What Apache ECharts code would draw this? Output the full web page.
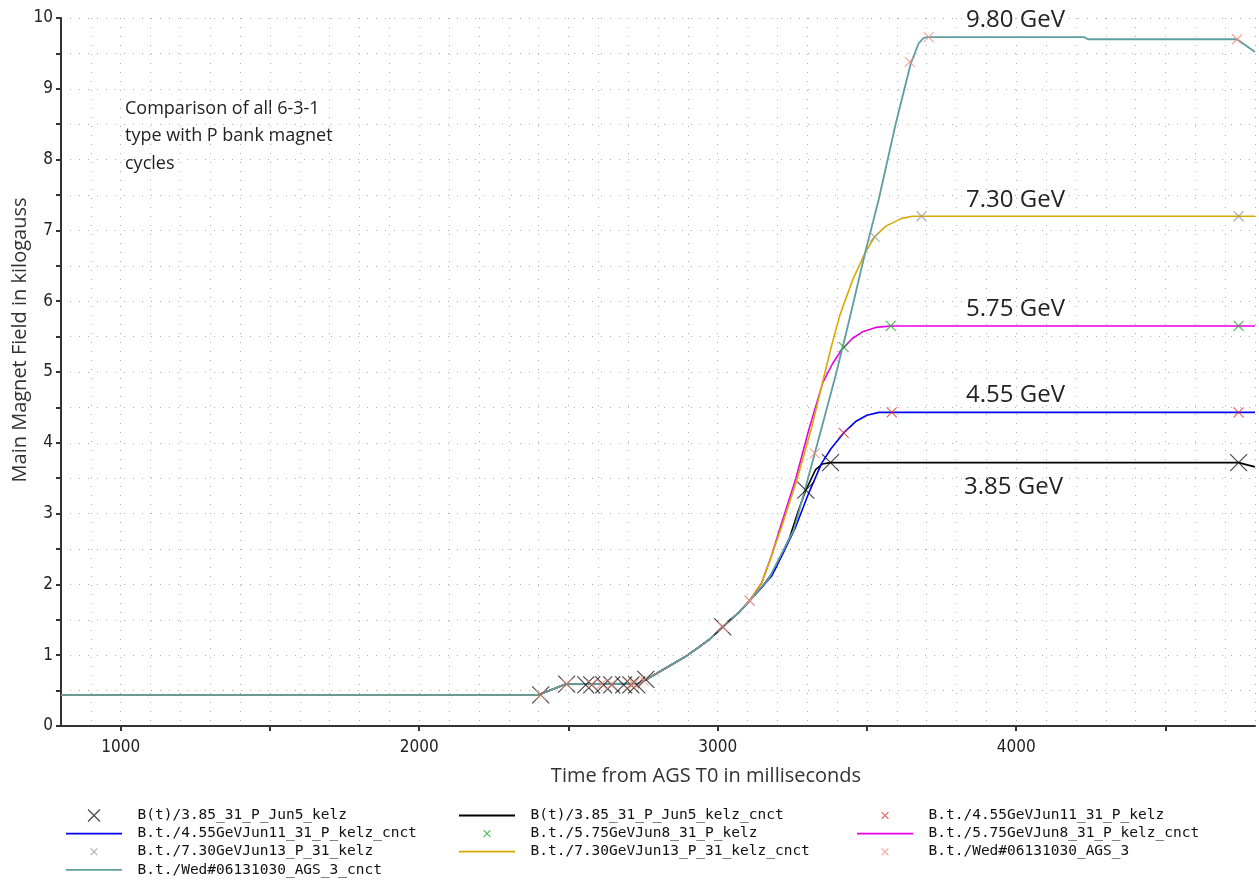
<!DOCTYPE html>
<html>
<head>
<meta charset="utf-8">
<script src="https://cdn.jsdelivr.net/npm/echarts@6/dist/echarts.min.js"></script>
<style>
  html, body { margin: 0; padding: 0; background: #fff; }
  #chart { width: 1259px; height: 888px; }
</style>
</head>
<body>
<div id="chart"></div>
<script>
// Tick labels
const xTickLabels = [1000, 2000, 3000, 4000];
const xTicks = [1000, 1500, 2000, 2500, 3000, 3500, 4000, 4500];

// Shared front porch and early ramp of every cycle (ms, kG)
const rampTime  = [800, 2400, 2490, 2735, 2758, 2825, 2892, 2936, 2970, 3017, 3070, 3107];
const rampField = [0.44, 0.44, 0.59, 0.60, 0.65, 0.815, 0.98, 1.11, 1.215, 1.40, 1.60, 1.77];

// Connected curves after the ramps separate
const time385  = [3150, 3190, 3240, 3271, 3295, 3328, 3350, 3378, 4745, 4800];
const field385 = [1.97, 2.20, 2.65, 3.05, 3.33, 3.62, 3.70, 3.72, 3.72, 3.66];

const time455  = [3150, 3181, 3220, 3261, 3305, 3348, 3380, 3422, 3462, 3500, 3540, 3583, 4800];
const field455 = [1.97, 2.12, 2.45, 2.81, 3.29, 3.71, 3.92, 4.14, 4.30, 4.39, 4.43, 4.43, 4.43];

const time575  = [3147, 3180, 3210, 3262, 3305, 3352, 3385, 3415, 3450, 3486, 3530, 3580, 4800];
const field575 = [2.02, 2.40, 2.81, 3.50, 4.18, 4.85, 5.12, 5.31, 5.47, 5.57, 5.63, 5.65, 5.65];

const time730  = [3147, 3180, 3214, 3265, 3315, 3351, 3380, 3409, 3452, 3496, 3526, 3563, 3617, 3653, 4800];
const field730 = [2.02, 2.40, 2.81, 3.47, 4.22, 4.85, 5.35, 5.80, 6.30, 6.70, 6.91, 7.06, 7.17, 7.20, 7.20];

const time980  = [3150, 3171, 3210, 3255, 3295, 3325, 3355, 3395, 3436, 3496, 3539, 3596, 3647, 3673, 3690, 3707, 4228, 4240, 4740, 4800];
const field980 = [1.98, 2.08, 2.40, 2.77, 3.38, 3.85, 4.32, 4.95, 5.65, 6.72, 7.43, 8.50, 9.36, 9.64, 9.72, 9.73, 9.73, 9.70, 9.70, 9.52];

// Measured samples (kelz)
const kelz385Time  = [2407, 2494, 2558, 2578, 2618, 2645, 2685, 2709, 2729, 2759, 3017, 3295, 3378, 4745];
const kelz385Field = [0.44, 0.59, 0.58, 0.58, 0.58, 0.58, 0.58, 0.58, 0.58, 0.66, 1.40, 3.33, 3.72, 3.72];

const kelz455Time  = [3422, 3583, 4745];
const kelz455Field = [4.14, 4.43, 4.43];

const kelz575Time  = [3422, 3580, 4745];
const kelz575Field = [5.35, 5.65, 5.65];

const kelz730Time  = [3107, 3526, 3683, 4745];
const kelz730Field = [1.77, 6.91, 7.20, 7.20];

const ags3Time  = [2407, 2494, 2578, 2611, 2645, 2709, 2719, 2752, 3017, 3107, 3325, 3643, 3707, 4740];
const ags3Field = [0.44, 0.59, 0.59, 0.59, 0.59, 0.59, 0.60, 0.64, 1.40, 1.77, 3.85, 9.38, 9.73, 9.70];

// Series names
const N = {
  k385: 'B(t)/3.85_31_P_Jun5_kelz',
  c385: 'B(t)/3.85_31_P_Jun5_kelz_cnct',
  k455: 'B.t./4.55GeVJun11_31_P_kelz',
  c455: 'B.t./4.55GeVJun11_31_P_kelz_cnct',
  k575: 'B.t./5.75GeVJun8_31_P_kelz',
  c575: 'B.t./5.75GeVJun8_31_P_kelz_cnct',
  k730: 'B.t./7.30GeVJun13_P_31_kelz',
  c730: 'B.t./7.30GeVJun13_P_31_kelz_cnct',
  ags:  'B.t./Wed#06131030_AGS_3',
  cags: 'B.t./Wed#06131030_AGS_3_cnct'
};

const pairs = (xs, ys) => xs.map((x, i) => [x, ys[i]]);
const withRamp = (xs, ys) => pairs(rampTime.concat(xs), rampField.concat(ys));

const CROSS = 'path://M0,0L10,10M10,0L0,10';
const CROSS_SMALL_ICON = 'path://M-3,-3M0,0L8,8M8,0L0,8M11,11';
const CROSS_BIG_ICON = 'path://M0,0L12,12M12,0L0,12';
const LINE_ICON = 'path://M0,0M0,5.1L56,5.1L56,6.9L0,6.9ZM56,12';

function lineSeries(name, data, color, width) {
  return {
    name, type: 'line', data, symbol: 'none', z: 2,
    lineStyle: { color, width: width || 1.6 },
    itemStyle: { color },
    emphasis: { disabled: true }, animation: false
  };
}
function crossSeries(name, data, color, size) {
  return {
    name, type: 'scatter', data, symbol: CROSS, symbolSize: size, z: 5,
    itemStyle: { color: 'rgba(0,0,0,0)', borderColor: color, borderWidth: 1.1 },
    emphasis: { disabled: true }, animation: false
  };
}

const C = {
  k385: '#111111', c385: '#000000',
  k455: '#e8302c', c455: '#0000ee',
  k575: '#22aa22', c575: '#e600e6',
  k730: '#9a9a9a', c730: '#d8aa00',
  ags: '#f4907c',  cags: '#5f9ea0'
};

const dotted = { color: '#b0b0b0', width: 1, type: [1, 8] };
const tickFont = { fontFamily: "'Liberation Sans Narrow', 'DejaVu Sans Condensed', 'Liberation Sans', sans-serif", fontSize: 17, color: '#222' };
const titleFontCss = "20px 'Open Sans', 'Noto Sans', sans-serif";

const legendBase = {
  orient: 'vertical', itemWidth: 56, itemHeight: 12, itemGap: 3.1, padding: 0,
  selectedMode: false,
  textStyle: { fontFamily: "'DejaVu Sans Mono', monospace", fontSize: 14.5, color: '#111', padding: [0, 0, 0, 10.5] }
};
const crossIcon = (name, color, big) => ({
  name, icon: big ? CROSS_BIG_ICON : CROSS_SMALL_ICON,
  itemStyle: { color: 'rgba(0,0,0,0)', borderColor: color, borderWidth: 1.1 }
});
const lineIcon = (name, color) => ({
  name, icon: LINE_ICON, itemStyle: { color, borderWidth: 0 }
});

const option = {
  backgroundColor: '#fff',
  animation: false,
  grid: { left: 61, right: 4, top: 18, bottom: 162, containLabel: false },
  xAxis: [
    {
      type: 'value', min: 800, max: 4800,
      axisLine: { show: true, onZero: false, lineStyle: { color: '#333', width: 2 } },
      axisTick: { show: true, length: 5, customValues: xTicks, lineStyle: { color: '#333', width: 2 } },
      axisLabel: Object.assign({ margin: 13, customValues: xTickLabels, formatter: v => String(v) }, tickFont),
      splitLine: { show: false }
    },
    {
      type: 'value', min: 800, max: 4800, interval: 100, position: 'bottom',
      axisLine: { show: false }, axisTick: { show: false }, axisLabel: { show: false },
      splitLine: { show: true, lineStyle: dotted }
    }
  ],
  yAxis: {
    type: 'value', min: 0, max: 10, interval: 1,
    axisLine: { show: true, onZero: false, lineStyle: { color: '#333', width: 2 } },
    axisTick: { show: true, length: 5, lineStyle: { color: '#333', width: 2 } },
    minorTick: { show: true, splitNumber: 2, length: 5, lineStyle: { color: '#333', width: 2 } },
    axisLabel: Object.assign({ margin: 8 }, tickFont),
    splitLine: { show: true, lineStyle: dotted },
    minorSplitLine: { show: true, lineStyle: dotted }
  },
  legend: [
    Object.assign({}, legendBase, { left: 66, top: 808, data: [crossIcon(N.k385, C.k385, true), lineIcon(N.c455, C.c455), crossIcon(N.k730, C.k730), lineIcon(N.cags, C.cags)] }),
    Object.assign({}, legendBase, { left: 459, top: 808, data: [lineIcon(N.c385, C.c385), crossIcon(N.k575, C.k575), lineIcon(N.c730, C.c730)] }),
    Object.assign({}, legendBase, { left: 857, top: 808, data: [crossIcon(N.k455, C.k455), lineIcon(N.c575, C.c575), crossIcon(N.ags, C.ags)] })
  ],
  graphic: [
    // axis titles
    { type: 'text', x: 706, y: 776, silent: true,
      style: { text: 'Time from AGS T0 in milliseconds', fill: '#333', font: titleFontCss, align: 'center', verticalAlign: 'middle' } },
    { type: 'text', x: 20, y: 340, rotation: Math.PI / 2, silent: true,
      style: { text: 'Main Magnet Field in kilogauss', fill: '#333', font: titleFontCss, align: 'center', verticalAlign: 'middle' } },
    // note
    { type: 'text', left: 125, top: 95, silent: true,
      style: { text: 'Comparison of all 6-3-1\ntype with P bank magnet\ncycles', fill: '#222',
               font: "18px 'Open Sans', 'Noto Sans', sans-serif", lineHeight: 27.5 } },
    // beam energy labels
    { type: 'text', x: 966, y: 20, silent: true, style: { text: '9.80 GeV', fill: '#222', font: "24px 'Open Sans', 'Noto Sans', sans-serif", verticalAlign: 'middle' } },
    { type: 'text', x: 966, y: 200, silent: true, style: { text: '7.30 GeV', fill: '#222', font: "24px 'Open Sans', 'Noto Sans', sans-serif", verticalAlign: 'middle' } },
    { type: 'text', x: 966, y: 309, silent: true, style: { text: '5.75 GeV', fill: '#222', font: "24px 'Open Sans', 'Noto Sans', sans-serif", verticalAlign: 'middle' } },
    { type: 'text', x: 966, y: 395, silent: true, style: { text: '4.55 GeV', fill: '#222', font: "24px 'Open Sans', 'Noto Sans', sans-serif", verticalAlign: 'middle' } },
    { type: 'text', x: 964, y: 487, silent: true, style: { text: '3.85 GeV', fill: '#222', font: "24px 'Open Sans', 'Noto Sans', sans-serif", verticalAlign: 'middle' } }
  ],
  series: [
    lineSeries(N.c385, withRamp(time385, field385), C.c385),
    lineSeries(N.c455, withRamp(time455, field455), C.c455),
    lineSeries(N.c575, withRamp(time575, field575), C.c575),
    lineSeries(N.c730, withRamp(time730, field730), C.c730),
    lineSeries(N.cags, withRamp(time980, field980), C.cags, 1.8),
    crossSeries(N.k385, pairs(kelz385Time, kelz385Field), C.k385, 17),
    crossSeries(N.k455, pairs(kelz455Time, kelz455Field), C.k455, 10),
    crossSeries(N.k575, pairs(kelz575Time, kelz575Field), C.k575, 10),
    crossSeries(N.k730, pairs(kelz730Time, kelz730Field), C.k730, 10),
    crossSeries(N.ags, pairs(ags3Time, ags3Field), C.ags, 10)
  ]
};

const chart = echarts.init(document.getElementById('chart'), null, { renderer: 'canvas' });
chart.setOption(option);
</script>
</body>
</html>
